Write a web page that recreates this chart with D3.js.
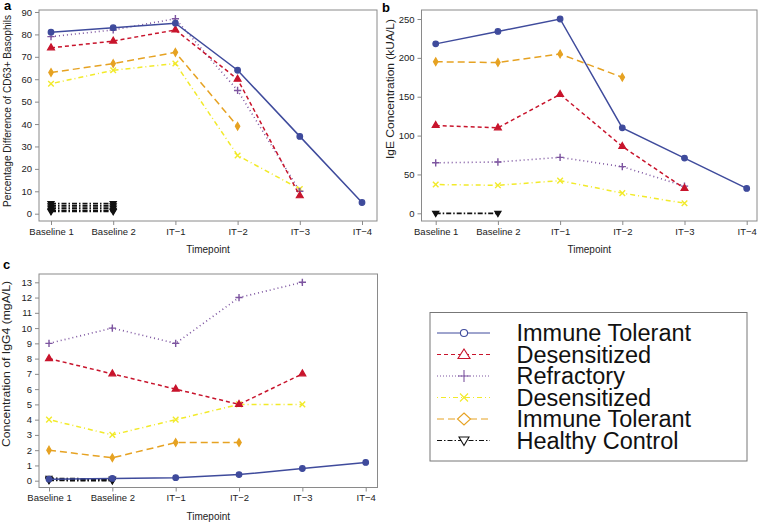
<!DOCTYPE html>
<html><head><meta charset="utf-8">
<script src="https://cdn.jsdelivr.net/npm/d3@7"></script>
<style>body{margin:0;background:#fff}svg{display:block;font-family:"Liberation Sans",Arial,sans-serif}</style>
</head><body><svg id="c" width="760" height="525"></svg>
<script>
const timepoints = ["Baseline 1","Baseline 2","IT\u22121","IT\u22122","IT\u22123","IT\u22124"];
const legendLabels = ["Immune Tolerant","Desensitized","Refractory","Desensitized","Immune Tolerant","Healthy Control"];
const seriesColors = ["#3f4b9c","#c8142c","#7d55a0","#f2ea2a","#e6a222","#111111"];

// Panel a: Percentage difference of CD63+ basophils
const aImmuneTolerant1 = [81,83,85,64,34.5,5];
const aDesensitized1   = [74,77,82,60,8];
const aRefractory      = [79,82,87,55,10];
const aDesensitized2   = [58,64,67,26,11];
const aImmuneTolerant2 = [63,67,72,39];
const aHealthy = [[4.5,4.5],[3.5,3.5],[2.5,2.5],[1.5,1.5],[1,1]];
const aTicks = [0,10,20,30,40,50,60,70,80,90];

// Panel b: IgE concentration
const bImmuneTolerant1 = [218,234,250,110,71,32];
const bDesensitized1   = [113,110,153,86,32];
const bRefractory      = [65,66,72,60,35];
const bDesensitized2   = [37,36,42,26,13];
const bImmuneTolerant2 = [195,194,205,175];
const bHealthy = [[0,0]];
const bTicks = [0,50,100,150,200,250];

// Panel c: IgG4 concentration
const cImmuneTolerant1 = [0.1,0.15,0.2,0.4,0.8,1.2];
const cDesensitized1   = [8,7,6,5,7];
const cRefractory      = [9,10,9,12,13];
const cDesensitized2   = [4,3,4,5,5];
const cImmuneTolerant2 = [2,1.5,2.5,2.5];
const cHealthy = [[0.15,0.1],[0.08,0.05],[0.02,0.0]];
const cTicks = [0,1,2,3,4,5,6,7,8,9,10,11,12,13];

const dashes = [null,"4,3","1,3","1,3,5,3","7,4","5,2,1.5,2"];
const shapes = ["circle","triangle","plus","x","diamond","tridown"];

const svg = d3.select("#c");

function markerPath(shape, s){
  switch(shape){
    case "circle": return d3.symbol(d3.symbolCircle, s*s*3.14)();
    case "triangle": return d3.symbol(d3.symbolTriangle, s*s*2.6)();
    case "diamond": return d3.symbol(d3.symbolDiamond, s*s*2.2)();
    case "tridown": return "M"+(-s*1.1)+","+(-s*0.7)+"L"+(s*1.1)+","+(-s*0.7)+"L0,"+(s*1.2)+"Z";
    case "plus": return `M${-s*1.3},0L${s*1.3},0M0,${-s*1.3}L0,${s*1.3}`;
    case "x": return `M${-s},${-s}L${s},${s}M${-s},${s}L${s},${-s}`;
  }
}

function drawMarker(g, shape, color, x, y, s, open){
  const p = g.append("path").attr("d", markerPath(shape,s)).attr("transform",`translate(${x},${y})`);
  if(shape==="plus"||shape==="x"){
    p.attr("fill","none").attr("stroke",color).attr("stroke-width",1.4);
  } else if(open){
    p.attr("fill","#fff").attr("stroke",color).attr("stroke-width",1.1);
  } else {
    p.attr("fill",color).attr("stroke",color).attr("stroke-width",1.2);
  }
}

function panel(cfg){
  const g = svg.append("g");
  const x = d3.scalePoint().domain(timepoints).range([cfg.x0,cfg.x1]);
  const y = d3.scaleLinear().domain([0,cfg.ymax]).range([cfg.y0,cfg.y1]);
  g.append("rect").attr("x",cfg.bl).attr("y",cfg.bt).attr("width",cfg.br-cfg.bl).attr("height",cfg.bb-cfg.bt)
    .attr("fill","none").attr("stroke","#8a8a8a").attr("stroke-width",1);
  const ya = g.append("g").attr("transform",`translate(${cfg.bl},0)`)
    .call(d3.axisLeft(y).tickValues(cfg.ticks).tickSize(4).tickPadding(3).tickFormat(d3.format("d")));
  ya.select(".domain").remove();
  ya.selectAll("line").attr("stroke","#8a8a8a");
  ya.selectAll("text").attr("font-size",9.5).attr("fill","#222").attr("font-family","Liberation Sans, Arial, sans-serif");
  const xa = g.append("g").attr("transform",`translate(0,${cfg.bb})`)
    .call(d3.axisBottom(x).tickSize(4).tickPadding(3));
  xa.select(".domain").remove();
  xa.selectAll("line").attr("stroke","#8a8a8a");
  xa.selectAll("text").attr("font-size",9.5).attr("fill","#222").attr("font-family","Liberation Sans, Arial, sans-serif");
  g.append("text").attr("x",(cfg.bl+cfg.br)/2).attr("y",cfg.bb+32).attr("text-anchor","middle")
    .attr("font-size",10).attr("fill","#222").text("Timepoint");
  g.append("text").attr("transform",`translate(${cfg.ylx},${cfg.ylc}) rotate(-90)`)
    .attr("text-anchor","middle").attr("font-size",10).attr("fill","#222")
    .attr("textLength",cfg.yll).attr("lengthAdjust","spacingAndGlyphs").text(cfg.ylabel);
  g.append("text").attr("x",cfg.lx).attr("y",cfg.ly).attr("font-size",13).attr("font-weight","bold").text(cfg.letter);

  const line = d3.line().x((d,i)=>x(timepoints[i])).y(d=>y(d));
  const order = [4,3,2,1,0];
  cfg.healthy.forEach(h=>{
    g.append("path").attr("d",line(h)).attr("fill","none").attr("stroke",seriesColors[5])
      .attr("stroke-width",1.8).attr("stroke-dasharray",dashes[5]);
    h.forEach((v,i)=>drawMarker(g,"tridown",seriesColors[5],x(timepoints[i]),y(v),2.8,false));
  });
  order.forEach(k=>{
    const s = cfg.series[k];
    g.append("path").attr("d",line(s)).attr("fill","none").attr("stroke",seriesColors[k])
      .attr("stroke-width",k===2?1.6:1.5).attr("stroke-dasharray",dashes[k]);
    s.forEach((v,i)=>drawMarker(g,shapes[k],seriesColors[k],x(timepoints[i]),y(v),2.8,false));
  });
}

panel({letter:"a",lx:4,ly:10,bl:39,br:377,bt:10,bb:221,x0:51,x1:362,y0:213.7,y1:12,ymax:90,ticks:aTicks,
  ylx:11,ylc:111,yll:192,
  ylabel:"Percentage Difference of CD63+ Basophils",
  series:[aImmuneTolerant1,aDesensitized1,aRefractory,aDesensitized2,aImmuneTolerant2],healthy:aHealthy});
panel({letter:"b",lx:382,ly:12,bl:421.5,br:757,bt:10,bb:221,x0:435.7,x1:746.7,y0:213.3,y1:19,ymax:250,ticks:bTicks,
  ylx:394,ylc:89,yll:140,
  ylabel:"IgE Concentration (kUA/L)",
  series:[bImmuneTolerant1,bDesensitized1,bRefractory,bDesensitized2,bImmuneTolerant2],healthy:bHealthy});
panel({letter:"c",lx:3,ly:269,bl:39,br:377.5,bt:274,bb:487.5,x0:49,x1:365.7,y0:480.7,y1:282.3,ymax:13,ticks:cTicks,
  ylx:9.5,ylc:364,yll:166,
  ylabel:"Concentration of IgG4 (mgA/L)",
  series:[cImmuneTolerant1,cDesensitized1,cRefractory,cDesensitized2,cImmuneTolerant2],healthy:cHealthy});

// legend
const lg = svg.append("g");
lg.append("rect").attr("x",430).attr("y",312.5).attr("width",317).attr("height",148.5)
  .attr("fill","#fff").attr("stroke","#777").attr("stroke-width",1);
legendLabels.forEach((lab,k)=>{
  const yy = 333 + k*21.5;
  lg.append("line").attr("x1",437).attr("x2",490).attr("y1",yy).attr("y2",yy)
    .attr("stroke",seriesColors[k]).attr("stroke-width",1).attr("stroke-dasharray",k===2?"1,2":dashes[k]);
  if(k===5){
    lg.append("path").attr("d","M-5,-3.5L5,-3.5L0,5Z").attr("transform",`translate(464,${yy})`)
      .attr("fill","#fff").attr("stroke",seriesColors[k]).attr("stroke-width",1.1);
  } else if(k===2){
    lg.append("path").attr("d","M-6,0L6,0M0,-6L0,6").attr("transform",`translate(464,${yy})`)
      .attr("stroke",seriesColors[k]).attr("stroke-width",1.1);
  } else if(k===3){
    lg.append("path").attr("d","M-4,-4L4,4M-4,4L4,-4").attr("transform",`translate(464,${yy})`)
      .attr("stroke",seriesColors[k]).attr("stroke-width",1.1);
  } else {
    const sym = k===0? d3.symbol(d3.symbolCircle,40)() : k===1? "M0,-5.5L6,4L-6,4Z" : "M0,-6L6.5,0L0,6L-6.5,0Z";
    lg.append("path").attr("d",sym).attr("transform",`translate(464,${yy})`)
      .attr("fill","#fff").attr("stroke",seriesColors[k]).attr("stroke-width",1.1);
  }
  lg.append("text").attr("x",516.5).attr("y",yy+8.3).attr("font-size",23.5).attr("fill","#111").text(lab);
});
</script></body></html>
